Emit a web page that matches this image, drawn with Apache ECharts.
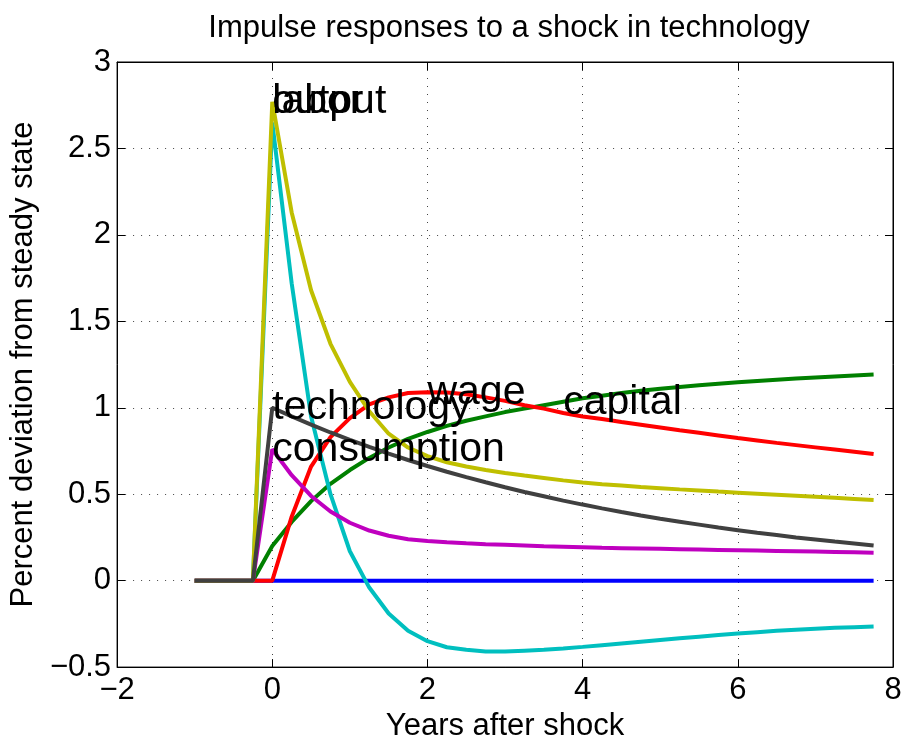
<!DOCTYPE html>
<html>
<head>
<meta charset="utf-8">
<title>Impulse responses to a shock in technology</title>
<script src="https://cdn.jsdelivr.net/npm/echarts@6/dist/echarts.min.js"></script>
<style>
  html, body { margin: 0; padding: 0; background: #ffffff; }
  #chart { width: 907px; height: 747px; }
</style>
</head>
<body>
<div id="chart"></div>
<script>
// quarters, in years after the shock
const years = [
  -1, -0.75, -0.5, -0.25, 0, 0.25, 0.5, 0.75, 1, 1.25, 1.5, 1.75,
  2, 2.25, 2.5, 2.75, 3, 3.25, 3.5, 3.75, 4, 4.25, 4.5, 4.75,
  5, 5.25, 5.5, 5.75, 6, 6.25, 6.5, 6.75, 7, 7.25, 7.5, 7.75
];

// percent deviation from steady state, one value per quarter
const baseline = [
  0, 0, 0, 0, 0, 0, 0, 0, 0, 0, 0, 0,
  0, 0, 0, 0, 0, 0, 0, 0, 0, 0, 0, 0,
  0, 0, 0, 0, 0, 0, 0, 0, 0, 0, 0, 0
];
const capital = [
  0, 0, 0, 0, 0.20, 0.34, 0.46, 0.56, 0.64, 0.71, 0.77, 0.82,
  0.86, 0.895, 0.925, 0.95, 0.975, 0.995, 1.015, 1.035, 1.055, 1.07, 1.085, 1.098,
  1.11, 1.12, 1.13, 1.139, 1.147, 1.155, 1.162, 1.169, 1.175, 1.181, 1.187, 1.192
];
const wage = [
  0, 0, 0, 0, 0, 0.37, 0.66, 0.83, 0.94, 1.02, 1.06, 1.085,
  1.09, 1.088, 1.078, 1.06, 1.04, 1.015, 0.995, 0.97, 0.95, 0.935, 0.918, 0.902,
  0.886, 0.87, 0.855, 0.84, 0.825, 0.811, 0.797, 0.784, 0.771, 0.758, 0.745, 0.732
];
const labor = [
  0, 0, 0, 0, 2.65, 1.72, 0.95, 0.50, 0.17, -0.04, -0.19, -0.29,
  -0.35, -0.385, -0.40, -0.41, -0.41, -0.405, -0.40, -0.392, -0.383, -0.373, -0.363, -0.353,
  -0.343, -0.333, -0.324, -0.315, -0.306, -0.298, -0.29, -0.284, -0.278, -0.273, -0.269, -0.265
];
const consumption = [
  0, 0, 0, 0, 0.76, 0.61, 0.49, 0.40, 0.335, 0.29, 0.26, 0.24,
  0.23, 0.222, 0.216, 0.211, 0.207, 0.203, 0.199, 0.196, 0.193, 0.19, 0.188, 0.186,
  0.184, 0.182, 0.18, 0.178, 0.176, 0.174, 0.172, 0.17, 0.168, 0.166, 0.164, 0.162
];
const output = [
  0, 0, 0, 0, 2.77, 2.13, 1.68, 1.37, 1.15, 0.98, 0.85, 0.77,
  0.72, 0.685, 0.66, 0.64, 0.623, 0.608, 0.594, 0.58, 0.568, 0.558, 0.55, 0.542,
  0.535, 0.528, 0.522, 0.515, 0.509, 0.503, 0.497, 0.491, 0.485, 0.479, 0.473, 0.467
];
const technology = [
  0, 0, 0, 0, 1.00, 0.95, 0.903, 0.857, 0.815, 0.774, 0.735, 0.698,
  0.663, 0.63, 0.599, 0.569, 0.54, 0.513, 0.488, 0.463, 0.44, 0.418, 0.397, 0.377,
  0.358, 0.341, 0.324, 0.307, 0.292, 0.277, 0.264, 0.25, 0.238, 0.226, 0.215, 0.204
];

// text labels placed inside the plot (left edge at the point)
const labelNames = ["labor", "output", "technology", "consumption", "wage", "capital"];
const labelX = [0, 0, 0, 0, 2, 3.75];
const labelY = [2.77, 2.77, 1.0, 0.755, 1.088, 1.03];

const xTicks = { min: -2, max: 8, step: 2 };
const yTicks = { min: -0.5, max: 3, step: 0.5 };

const FONT = "'Liberation Sans', Arial, Helvetica, sans-serif";

// MATLAB default colour order
const COLORS = {
  baseline: "#0000ff",
  capital: "#008000",
  wage: "#ff0000",
  labor: "#00bfbf",
  consumption: "#bf00bf",
  output: "#bfbf00",
  technology: "#404040",
};

const minus = (v) => String(v).replace("-", "\u2212");

function pairs(values) {
  return years.map((x, i) => [x, values[i]]);
}

function lineSeries(name, values) {
  return {
    name,
    type: "line",
    data: pairs(values),
    symbol: "none",
    silent: true,
    lineStyle: { width: 4, color: COLORS[name] },
    itemStyle: { color: COLORS[name] },
  };
}

const chart = echarts.init(document.getElementById("chart"), null, { renderer: "canvas" });

const gridDots = { show: true, lineStyle: { color: "#444", width: 1, type: [1, 7] } };
const box = { show: true, onZero: false, lineStyle: { color: "#000", width: 1 } };
const ticksIn = { show: true, inside: true, length: 8, lineStyle: { color: "#000" } };

chart.setOption({
  animation: false,
  backgroundColor: "#ffffff",
  textStyle: { fontFamily: FONT },
  title: {
    text: "Impulse responses to a shock in technology",
    left: 504,
    textAlign: "center",
    top: 8,
    textStyle: { fontFamily: FONT, fontSize: 31, fontWeight: "normal", color: "#000" },
  },
  grid: {
    left: 116,
    right: 14,
    top: 62,
    bottom: 74,
    show: true,
    borderColor: "#000",
    borderWidth: 1,
    containLabel: false,
  },
  xAxis: [
    {
      type: "value",
      position: "bottom",
      min: xTicks.min,
      max: xTicks.max,
      interval: xTicks.step,
      name: "Years after shock",
      nameLocation: "middle",
      nameGap: 40,
      nameTextStyle: { fontFamily: FONT, fontSize: 31, color: "#000" },
      axisLine: box,
      axisTick: ticksIn,
      axisLabel: { color: "#000", fontSize: 31, fontFamily: FONT, margin: 8, formatter: minus },
      splitLine: gridDots,
    },
    {
      type: "value",
      position: "top",
      min: xTicks.min,
      max: xTicks.max,
      interval: xTicks.step,
      axisLine: box,
      axisTick: ticksIn,
      axisLabel: { show: false },
      splitLine: { show: false },
    },
  ],
  yAxis: [
    {
      type: "value",
      position: "left",
      min: yTicks.min,
      max: yTicks.max,
      interval: yTicks.step,
      name: "Percent deviation from steady state",
      nameLocation: "middle",
      nameGap: 70,
      nameTextStyle: { fontFamily: FONT, fontSize: 31, color: "#000" },
      axisLine: box,
      axisTick: ticksIn,
      axisLabel: { color: "#000", fontSize: 31, fontFamily: FONT, margin: 6, formatter: minus },
      splitLine: gridDots,
    },
    {
      type: "value",
      position: "right",
      min: yTicks.min,
      max: yTicks.max,
      interval: yTicks.step,
      axisLine: box,
      axisTick: ticksIn,
      axisLabel: { show: false },
      splitLine: { show: false },
    },
  ],
  series: [
    lineSeries("baseline", baseline),
    lineSeries("capital", capital),
    lineSeries("wage", wage),
    lineSeries("labor", labor),
    lineSeries("consumption", consumption),
    lineSeries("output", output),
    lineSeries("technology", technology),
    {
      name: "labels",
      type: "custom",
      silent: true,
      z: 10,
      data: labelX.map((x, i) => [x, labelY[i]]),
      renderItem(params, api) {
        const pt = api.coord([api.value(0), api.value(1)]);
        return {
          type: "text",
          x: pt[0],
          y: pt[1],
          style: {
            text: labelNames[params.dataIndex],
            fill: "#000000",
            font: `41px ${FONT}`,
            align: "left",
            verticalAlign: "middle",
          },
        };
      },
    },
  ],
});
</script>
</body>
</html>
